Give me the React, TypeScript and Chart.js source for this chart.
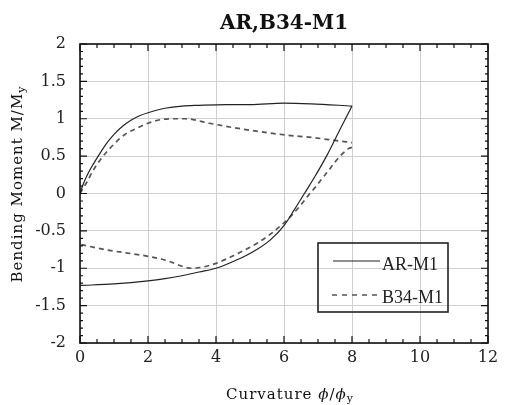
import React, { useEffect, useRef } from "react";
import { Chart, registerables } from "chart.js";

Chart.register(...registerables);

// ---- data ----
const arLoadX = [0, 0.1, 0.25, 0.4, 0.55, 0.75, 1.0, 1.25, 1.5, 1.75, 2.0, 2.5, 3.0, 3.5, 4.3, 5.0, 6.0, 6.8, 8.0];
const arLoadY = [0, 0.13, 0.28, 0.4, 0.51, 0.65, 0.79, 0.9, 0.98, 1.04, 1.08, 1.14, 1.17, 1.18, 1.19, 1.19, 1.21, 1.2, 1.17];
const arUnloadX = [8.0, 7.65, 7.25, 6.9, 6.6, 6.3, 6.0, 5.6, 5.2, 4.8, 4.4, 4.0, 3.5, 3.0, 2.5, 2.0, 1.0, 0];
const arUnloadY = [1.17, 0.86, 0.5, 0.22, 0, -0.22, -0.43, -0.62, -0.75, -0.85, -0.93, -1.0, -1.05, -1.1, -1.14, -1.17, -1.21, -1.23];

const b34LoadX = [0, 0.2, 0.4, 0.68, 1.0, 1.32, 1.7, 2.0, 2.4, 2.75, 3.1, 3.8, 4.8, 6.1, 6.8, 7.5, 8.0];
const b34LoadY = [0, 0.15, 0.32, 0.5, 0.66, 0.79, 0.88, 0.94, 0.99, 1.0, 1.0, 0.94, 0.86, 0.78, 0.75, 0.71, 0.68];
const b34UnloadX = [8.0, 7.9, 7.65, 7.5, 7.3, 7.1, 6.95, 6.76, 6.5, 6.03, 5.3, 4.56, 3.9, 3.3, 2.5, 2.0, 0.73, 0];
const b34UnloadY = [0.62, 0.6, 0.5, 0.42, 0.3, 0.19, 0.1, 0, -0.15, -0.38, -0.64, -0.82, -0.95, -1.0, -0.89, -0.84, -0.75, -0.68];

const xTickValues = [0, 2, 4, 6, 8, 10, 12];
const yTickValues = [-2, -1.5, -1, -0.5, 0, 0.5, 1, 1.5, 2];
const seriesNames = ["AR-M1", "B34-M1"];
const chartTitle = "AR,B34-M1";

const toPts = (xs: number[], ys: number[]) => xs.map((x, i) => ({ x, y: ys[i] }));

const SERIF = '"DejaVu Serif", serif';

const decor = {
  id: "decor",
  afterDraw(chart: any) {
    const { ctx, chartArea: a, scales } = chart;
    const xs = scales.x;
    const ys = scales.y;
    ctx.save();
    // frame
    ctx.strokeStyle = "#111";
    ctx.lineWidth = 1.6;
    ctx.strokeRect(a.left, a.top, a.right - a.left, a.bottom - a.top);
    // minor/major inner ticks
    ctx.lineWidth = 1.2;
    ctx.beginPath();
    for (let i = 0; i <= 24; i++) {
      const v = i * 0.5;
      const px = xs.getPixelForValue(v);
      const len = i % 4 === 0 ? 7 : 4;
      ctx.moveTo(px, a.bottom);
      ctx.lineTo(px, a.bottom - len);
      ctx.moveTo(px, a.top);
      ctx.lineTo(px, a.top + len);
    }
    for (let i = 0; i <= 40; i++) {
      const v = -2 + i * 0.1;
      const py = ys.getPixelForValue(v);
      const len = i % 5 === 0 ? 7 : 3;
      ctx.moveTo(a.left, py);
      ctx.lineTo(a.left + len, py);
      ctx.moveTo(a.right, py);
      ctx.lineTo(a.right - len, py);
    }
    ctx.stroke();

    ctx.fillStyle = "#111";
    // title
    ctx.font = `bold 20px ${SERIF}`;
    ctx.textAlign = "center";
    ctx.textBaseline = "middle";
    ctx.fillText(chartTitle, (a.left + a.right) / 2, 24);

    // y axis title
    ctx.save();
    ctx.translate(17, 184);
    ctx.rotate(-Math.PI / 2);
    ctx.textAlign = "left";
    ctx.textBaseline = "alphabetic";
    (ctx as any).letterSpacing = "1px";
    ctx.font = `15px ${SERIF}`;
    const yMain = "Bending Moment M/M";
    const w1 = ctx.measureText(yMain).width;
    ctx.font = `11px ${SERIF}`;
    const w2 = ctx.measureText("y").width;
    const sx = -(w1 + w2) / 2;
    ctx.font = `15px ${SERIF}`;
    ctx.fillText(yMain, sx, 5);
    ctx.font = `11px ${SERIF}`;
    ctx.fillText("y", sx + w1, 8);
    ctx.restore();

    // x axis title
    ctx.save();
    ctx.textAlign = "left";
    ctx.textBaseline = "alphabetic";
    (ctx as any).letterSpacing = "1px";
    const parts: [string, string, number][] = [
      ["Curvature ", `15px ${SERIF}`, 0],
      ["\u03d5", `italic 15px ${SERIF}`, 0],
      ["/", `15px ${SERIF}`, 0],
      ["\u03d5", `italic 15px ${SERIF}`, 0],
      ["y", `11px ${SERIF}`, 3],
    ];
    let total = 0;
    for (const [t, f] of parts) {
      ctx.font = f;
      total += ctx.measureText(t).width;
    }
    let cx = (a.left + a.right) / 2 + 6 - total / 2;
    for (const [t, f, dy] of parts) {
      ctx.font = f;
      ctx.fillText(t, cx, 399 + dy);
      cx += ctx.measureText(t).width;
    }
    ctx.restore();

    // legend
    ctx.strokeStyle = "#222";
    ctx.lineWidth = 1.6;
    ctx.strokeRect(318, 243, 130, 69);
    ctx.lineWidth = 1.2;
    ctx.strokeStyle = "#222";
    ctx.beginPath();
    ctx.moveTo(333, 261);
    ctx.lineTo(380, 261);
    ctx.stroke();
    ctx.strokeStyle = "#555";
    ctx.lineWidth = 1.6;
    ctx.setLineDash([5, 5]);
    ctx.beginPath();
    ctx.moveTo(332, 295);
    ctx.lineTo(380, 295);
    ctx.stroke();
    ctx.setLineDash([]);
    ctx.font = `18px "Liberation Serif", serif`;
    ctx.textAlign = "left";
    ctx.textBaseline = "middle";
    ctx.fillStyle = "#222";
    ctx.fillText(seriesNames[0], 382, 265);
    ctx.fillText(seriesNames[1], 382, 298);
    ctx.restore();
  },
};

export default function App() {
  const ref = useRef<HTMLCanvasElement>(null);
  useEffect(() => {
    if (!ref.current) return;
    const solid = { borderColor: "#222", borderWidth: 1.2, pointRadius: 0, showLine: true, cubicInterpolationMode: "monotone", fill: false };
    const dashed = { borderColor: "#555", borderWidth: 1.7, borderDash: [5, 4], pointRadius: 0, showLine: true, cubicInterpolationMode: "monotone", fill: false };
    const chart = new Chart(ref.current, {
      type: "scatter",
      data: {
        datasets: [
          { label: seriesNames[0], data: toPts(arLoadX, arLoadY), ...solid },
          { label: seriesNames[0] + " unload", data: toPts(arUnloadX, arUnloadY), ...solid },
          { label: seriesNames[1], data: toPts(b34LoadX, b34LoadY), ...dashed },
          { label: seriesNames[1] + " unload", data: toPts(b34UnloadX, b34UnloadY), ...dashed },
        ] as any,
      },
      options: {
        responsive: false,
        animation: false,
        layout: { padding: { left: 0, right: 17, top: 44, bottom: 0 } },
        plugins: { legend: { display: false }, title: { display: false }, tooltip: { enabled: false } },
        scales: {
          x: {
            type: "linear",
            min: 0,
            max: 12,
            afterBuildTicks: (s: any) => { s.ticks = xTickValues.map((v) => ({ value: v })); },
            afterFit: (s: any) => { s.height = 62; },
            ticks: { font: { family: SERIF, size: 16 }, color: "#222", padding: 5, maxRotation: 0, callback: (v: any) => String(v) },
            grid: { color: "#cfcfcf", lineWidth: 1, drawTicks: false },
            border: { display: false },
          },
          y: {
            type: "linear",
            min: -2,
            max: 2,
            afterBuildTicks: (s: any) => { s.ticks = yTickValues.map((v) => ({ value: v })); },
            afterFit: (s: any) => { s.width = 80; },
            ticks: { font: { family: SERIF, size: 16 }, color: "#222", padding: 14, callback: (v: any) => String(v) },
            grid: { color: "#cfcfcf", lineWidth: 1, drawTicks: false },
            border: { display: false },
          },
        },
      } as any,
      plugins: [decor],
    });
    return () => chart.destroy();
  }, []);
  return (
    <div style={{ position: "absolute", left: 0, top: 0, width: 505, height: 405, background: "#fff" }}>
      <canvas ref={ref} width={505} height={405} style={{ width: 505, height: 405 }} />
    </div>
  );
}
